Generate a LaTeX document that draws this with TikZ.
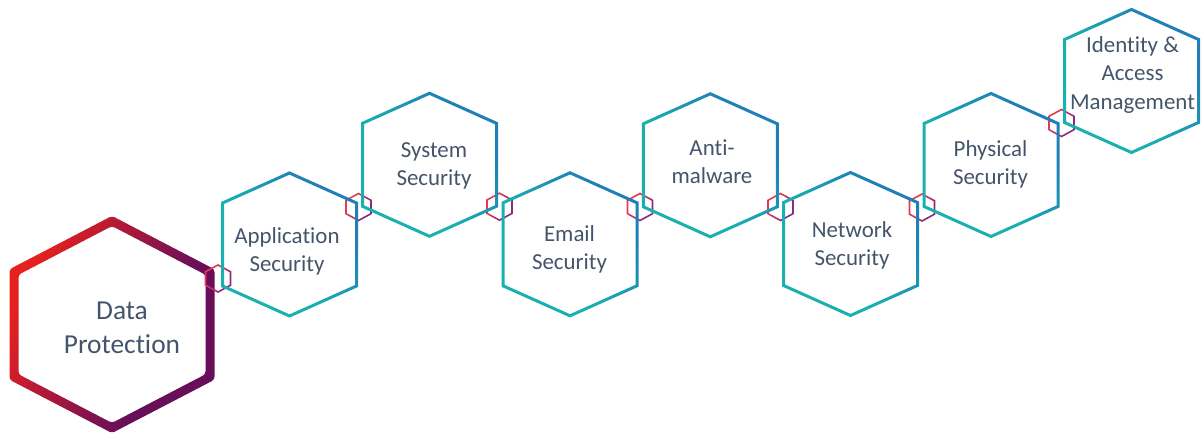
\documentclass[tikz,border=0pt]{standalone}
\usepackage{fontspec}
\setmainfont{Carlito}[Ligatures=CommonOff]
\definecolor{dpred}{HTML}{E5211E}
\definecolor{dppurple}{HTML}{690F5A}
\definecolor{tealc}{HTML}{1AB0B0}
\definecolor{bluec}{HTML}{1F7FB6}
\definecolor{conred}{HTML}{E23A52}
\definecolor{conpurple}{HTML}{8A2A80}
\definecolor{txt}{HTML}{44546A}
\pgfdeclarehorizontalshading{dpsh}{100bp}{color(0bp)=(dpred); color(27bp)=(dpred); color(62bp)=(dppurple); color(100bp)=(dppurple)}
\pgfdeclarehorizontalshading{tealsh}{100bp}{color(0bp)=(tealc); color(42bp)=(tealc); color(70bp)=(bluec); color(100bp)=(bluec)}
\pgfdeclarehorizontalshading{consh}{100bp}{color(0bp)=(conred); color(35bp)=(conred); color(66bp)=(conpurple); color(100bp)=(conpurple)}
% ring hexagon: #1 cx, #2 cy, #3 half-width, #4 half-height, #5 shoulder depth, #6 stroke width, #7 options
\newcommand\hexring[7]{%
  \pgfmathsetmacro\hL{sqrt((#3)*(#3)+(#5)*(#5))}%
  \pgfmathsetmacro\hd{(#6)/2}%
  \pgfmathsetmacro\oa{#3+\hd}%
  \pgfmathsetmacro\ob{#4+\hd*\hL/(#3)}%
  \pgfmathsetmacro\oc{(#5)*(#3+\hd)/(#3)}%
  \pgfmathsetmacro\ia{#3-\hd}%
  \pgfmathsetmacro\ib{#4-\hd*\hL/(#3)}%
  \pgfmathsetmacro\ic{(#5)*(#3-\hd)/(#3)}%
  \shade[#7, even odd rule]
    (#1,#2-\ob) -- ++(\oa,\oc) -- ++(0,2*\ob-2*\oc) -- ++(-\oa,\oc) -- ++(-\oa,-\oc) -- ++(0,-2*\ob+2*\oc) -- cycle
    (#1,#2-\ib) -- ++(\ia,\ic) -- ++(0,2*\ib-2*\ic) -- ++(-\ia,\ic) -- ++(-\ia,-\ic) -- ++(0,-2*\ib+2*\ic) -- cycle;%
}
\newcommand\tH{\rule{0pt}{18pt}}
\newcommand\tD{\rule[-6pt]{0pt}{6pt}}
\newcommand\bH{\rule{0pt}{22pt}}
\newcommand\bD{\rule[-7pt]{0pt}{7pt}}
\tikzset{
  dpring/.style={shading=dpsh, shading angle=-25, rounded corners=3pt},
  tealring/.style={shading=tealsh, shading angle=40},
  conring/.style={shading=consh, shading angle=-30},
  lbl/.style={text=txt, align=center, inner sep=0pt, font=\fontsize{23}{28.5}\selectfont},
  biglbl/.style={text=txt, align=center, inner sep=0pt, font=\fontsize{27.5}{33.5}\selectfont}
}
\begin{document}
\begin{tikzpicture}[x=1bp, y=-1bp]
\useasboundingbox (0,0) rectangle (1203,439);
% big hexagon
\hexring{112}{324.5}{98}{103.5}{51}{9}{dpring}
% small connector hexagons
\hexring{218}{278.5}{12.5}{13.5}{6.8}{1.6}{conring}
\hexring{358.5}{207}{12.5}{13.5}{6.8}{1.6}{conring}
\hexring{499.5}{206.7}{12.5}{13.5}{6.8}{1.6}{conring}
\hexring{640}{207}{12.5}{13.5}{6.8}{1.6}{conring}
\hexring{780.5}{207}{12.5}{13.5}{6.8}{1.6}{conring}
\hexring{922}{207.5}{12.5}{13.5}{6.8}{1.6}{conring}
\hexring{1061.5}{123}{12.5}{13.5}{6.8}{1.6}{conring}
% teal hexagons
\hexring{289.5}{244.5}{67}{71.5}{30}{3}{tealring}
\hexring{429.5}{164.8}{67}{71.5}{30}{3}{tealring}
\hexring{570}{244.3}{67}{71.5}{30}{3}{tealring}
\hexring{710.3}{165.3}{67}{71.5}{30}{3}{tealring}
\hexring{850.5}{244}{67}{71.5}{30}{3}{tealring}
\hexring{991}{165}{67}{71.5}{30}{3}{tealring}
\hexring{1131.5}{81}{67}{71.5}{30}{3}{tealring}
% labels
\node[biglbl] (dp) at (122,329) {\bH Data\\Protection\bD};
\node[lbl] (app) at (287,251.5) {\tH Application\\Security\tD};
\node[lbl] (sys) at (434,165.5) {\tH System\\Security\tD};
\node[lbl] (email) at (569.5,249.5) {\tH Email\\Security\tD};
\node[lbl] (anti) at (712,163.8) {\tH Anti-\\malware\tD};
\node[lbl] (net) at (852,245.5) {\tH Network\\Security\tD};
\node[lbl] (phys) at (990.5,164.8) {\tH Physical\\Security\tD};
\node[lbl] (iam) at (1132.5,75) {\tH Identity \&\\Access\\Management\tD};
\end{tikzpicture}
\end{document}
